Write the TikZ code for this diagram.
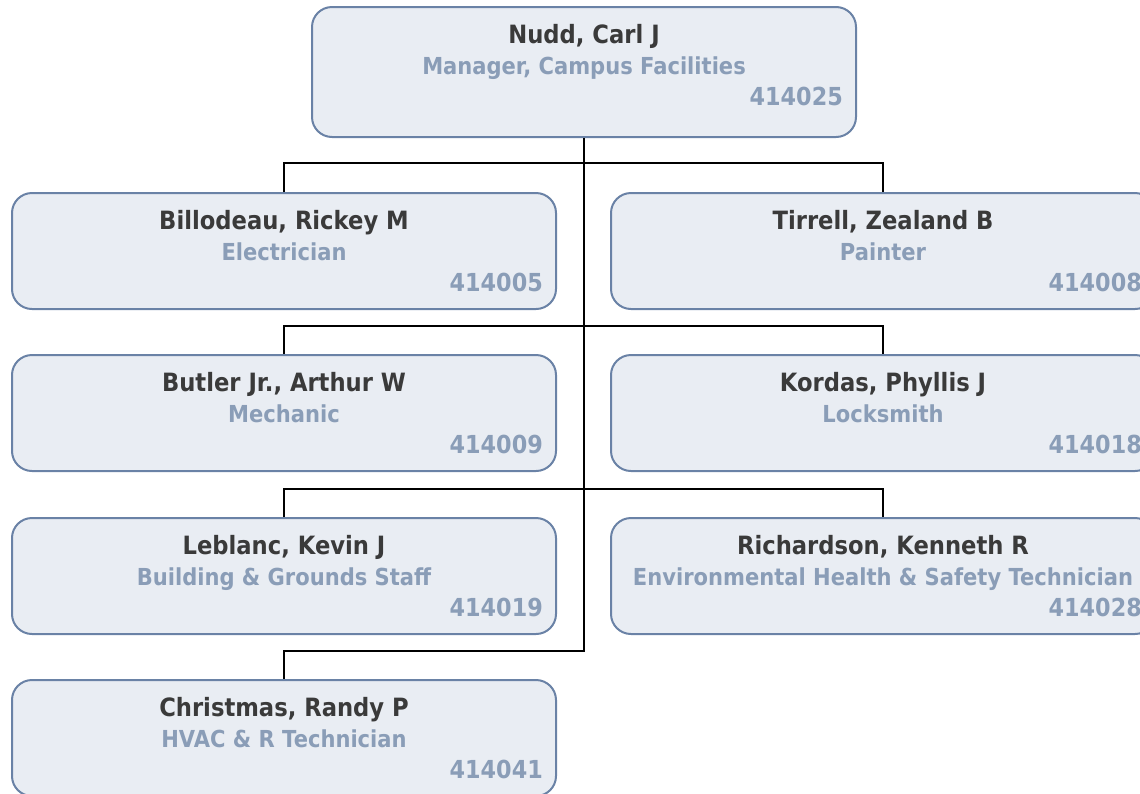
\documentclass[tikz,border=0pt]{standalone}
\usepackage{fontspec}
\setmainfont{DejaVu Sans}[FakeStretch=0.9]
\usetikzlibrary{calc}
\definecolor{cardfill}{HTML}{E9EDF3}
\definecolor{cardline}{HTML}{6A82A6}
\definecolor{nametext}{HTML}{3A3A3A}
\definecolor{roletext}{HTML}{8A9DB7}
\tikzset{
  card/.style={draw=cardline, fill=cardfill, line width=2pt, rounded corners=20pt,
    minimum width=544pt, minimum height=116pt, inner sep=0pt},
  nametxt/.style={anchor=base, inner sep=0pt, text=nametext,
    font=\fontsize{25.2}{30}\selectfont\bfseries},
  roletxt/.style={anchor=base, inner sep=0pt, text=roletext,
    font=\fontsize{23.4}{28}\selectfont\bfseries},
  idtxt/.style={anchor=base east, inner sep=0pt, text=roletext,
    font=\fontsize{24.8}{28}\selectfont\bfseries},
  link/.style={draw=black, line width=2pt},
}
% a person card: name of node, centre x, top y, height, name, role, number
\newcommand{\personcard}[7]{%
  \node[card, minimum height=#4pt, anchor=north] (#1) at (#2,#3) {};
  \node[nametxt] (#1-name) at ($(#1.north)+(0,37)$) {#5};
  \node[roletxt] (#1-role) at ($(#1.north)+(0,68)$) {#6};
  \node[idtxt] (#1-id) at ($(#1.north east)+(-14,99)$) {#7};
}
\begin{document}
\begin{tikzpicture}[x=1pt, y=-1pt]
\useasboundingbox (0,0) rectangle (1140,793);
\clip (0,0) rectangle (1140,793);

\personcard{nudd}{584}{6}{130}{Nudd, Carl J}{Manager, Campus Facilities}{414025}

\personcard{bill}{284}{192}{116}{Billodeau, Rickey M}{Electrician}{414005}
\personcard{tirr}{883}{192}{116}{Tirrell, Zealand B}{Painter}{414008}

\personcard{butl}{284}{354}{116}{Butler Jr., Arthur W}{Mechanic}{414009}
\personcard{kord}{883}{354}{116}{Kordas, Phyllis J}{Locksmith}{414018}

\personcard{lebl}{284}{517}{116}{Leblanc, Kevin J}{Building \& Grounds Staff}{414019}
\personcard{rich}{883}{517}{116}{Richardson, Kenneth R}{Environmental Health \& Safety Technician}{414028}

\personcard{chri}{284}{679}{116}{Christmas, Randy P}{HVAC \& R Technician}{414041}

% reporting lines
\draw[link] (nudd.south) |- ($(chri.north)+(0,-28)$) -- (chri.north);
\draw[link] (bill.north) -- ++(0,-29) -| (tirr.north);
\draw[link] (butl.north) -- ++(0,-28) -| (kord.north);
\draw[link] (lebl.north) -- ++(0,-28) -| (rich.north);
\end{tikzpicture}
\end{document}
